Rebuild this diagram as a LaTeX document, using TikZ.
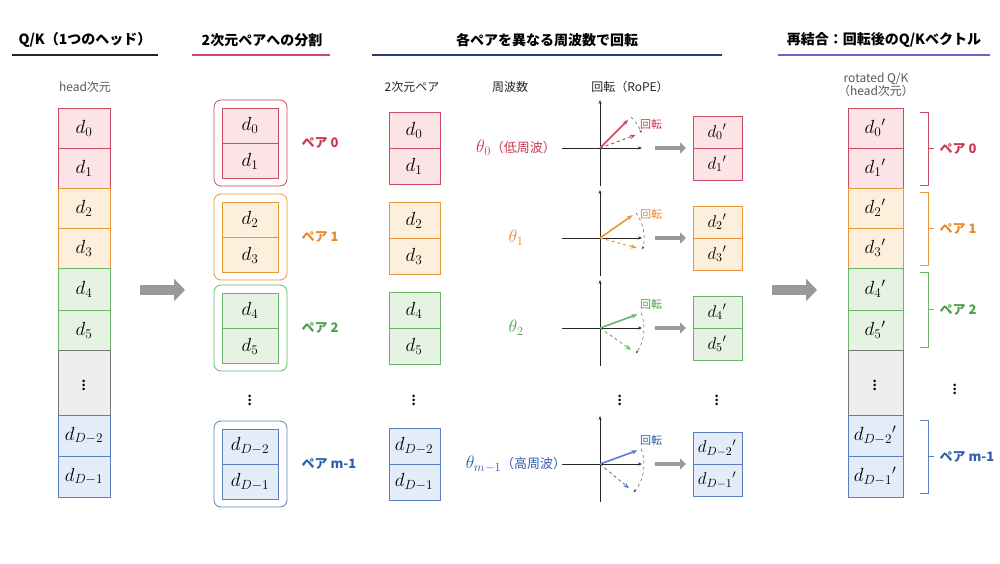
\RequirePackage{fix-cm}
\documentclass[tikz,border=0pt]{standalone}
\usepackage{fontspec}
\setmainfont{Noto Sans CJK JP}
\usetikzlibrary{arrows.meta,calc}
\definecolor{redS}{HTML}{C94C63}\definecolor{redF}{HTML}{FBE3E6}\definecolor{redT}{HTML}{C8384F}
\definecolor{oraS}{HTML}{E8963A}\definecolor{oraF}{HTML}{FDEFDC}\definecolor{oraT}{HTML}{E8892A}
\definecolor{grnS}{HTML}{6BB46A}\definecolor{grnF}{HTML}{E6F3E3}\definecolor{grnT}{HTML}{4CA04A}
\definecolor{bluS}{HTML}{5B80C0}\definecolor{bluF}{HTML}{E3ECF8}\definecolor{bluT}{HTML}{2F5FAA}
\definecolor{gryS}{HTML}{777777}\definecolor{gryF}{HTML}{EEEEEE}
\definecolor{navy}{HTML}{2B3A7A}\definecolor{purp}{HTML}{7A5CC8}
\newcommand\fsz[1]{\fontsize{#1}{#1}\selectfont}
\tikzset{
  head/.style={font=\fsz{14}\bfseries},
  sub/.style={font=\fsz{12},text=black!65},
  lbl/.style={font=\fsz{13}\bfseries},
  mth/.style={font=\fsz{19}},
  bigarrow/.style={-{Triangle[length=11pt,width=22pt]},line width=10pt,black!40},
  smallarrow/.style={-{Triangle[length=6pt,width=11pt]},line width=4pt,black!40},
  axis/.style={-{Stealth[length=4pt]},black!85,line width=0.7pt},
}
\begin{document}
\begin{tikzpicture}[x=1pt,y=-1pt]
\useasboundingbox[fill=white] (0,0) rectangle (1000,563);
% headings
\node[head] (h1) at (85,40) {Q/K（1つのヘッド）};
\node[head] (h2) at (262,40) {2次元ペアへの分割};
\node[head] (h3) at (547,40) {各ペアを異なる周波数で回転};
\node[head] (h4) at (884,40) {再結合：回転後のQ/Kベクトル};
\draw[line width=1.2pt,black!85] (12,55) -- (158,55);
\draw[line width=1.2pt,redS] (192,55) -- (330,55);
\draw[line width=1.2pt,navy] (372,55) -- (722,55);
\draw[line width=1.2pt,purp] (778,55) -- (990,55);
% left and right columns
\node[sub] (hd) at (85,87) {head次元};
\node[sub,align=center] (rq) at (876,85) {rotated Q/K\\（head次元）};
\foreach \i/\ya/\yb/\c/\t in {0/108/148/red/d_0,1/148/188/red/d_1,2/188/228/ora/d_2,3/228/268/ora/d_3,4/268/310/grn/d_4,5/310/350/grn/d_5,6/350/415/gry/\vdots,7/415/456/blu/d_{D-2},8/456/497/blu/d_{D-1}}{
  \draw[draw=\c S,fill=\c F] (58,\ya) rectangle (110,\yb);
  \node[mth] (l\i) at (84,{(\ya+\yb)/2}) {$\t$};
  \draw[draw=\c S,fill=\c F] (848,\ya) rectangle (903,\yb);
}
\foreach \i/\y/\t in {0/128/d_0{}',1/168/d_1{}',2/208/d_2{}',3/248/d_3{}',4/289/d_4{}',5/330/d_5{}',6/382/\vdots,7/435/d_{D-2}{}',8/476/d_{D-1}{}'}
  \node[mth] (r\i) at (875,\y) {$\t$};
\draw[bigarrow] (140,290) -- (185,290);
\draw[bigarrow] (772,290) -- (817,290);
% pairs
\foreach \j/\ya/\c/\t/\da/\db in {0/100/red/ペア 0/d_0/d_1,1/194/ora/ペア 1/d_2/d_3,2/285/grn/ペア 2/d_4/d_5,3/421/blu/ペア m-1/d_{D-2}/d_{D-1}}{
  \draw[draw=\c S,rounded corners=7pt,line width=0.8pt] (214,\ya) rectangle (287,\ya+86);
  \draw[draw=\c S,fill=\c F] (222,\ya+8) rectangle (278,\ya+78);
  \draw[draw=\c S] (222,\ya+43) -- (278,\ya+43);
  \node[mth] (pa\j) at (250,\ya+25) {$\da$};
  \node[mth] (pb\j) at (250,\ya+61) {$\db$};
  \node[lbl,text=\c T,anchor=west] (pl\j) at (298,\ya+43) {\t};
}
\node[mth] (pdots) at (250,397) {$\vdots$};
% column 3
\node[sub,text=black!85] (c1) at (412,87) {2次元ペア};
\node[sub,text=black!85] (c2) at (510,87) {周波数};
\node[sub,text=black!85] (c3) at (630,87) {回転（RoPE）};
\foreach \j/\yc/\c/\da/\db/\th/\sa/\dab in {0/148/red/d_0/d_1/{$\theta_0$\fsz{13}（低周波）}/45/20,1/238/ora/d_2/d_3/{$\theta_1$}/35/-15,2/328/grn/d_4/d_5/{$\theta_2$}/20/-35,3/464/blu/d_{D-2}/d_{D-1}/{$\theta_{m-1}$\fsz{13}（高周波）}/20/-40}{
  \draw[draw=\c S,fill=\c F] (389,\yc-36) rectangle (440,\yc+36);
  \draw[draw=\c S] (389,\yc) -- (440,\yc);
  \node[mth] (qa\j) at (414,\yc-18) {$\da$};
  \node[mth] (qb\j) at (414,\yc+18) {$\db$};
  \node[font=\fsz{18},text=\c T] (fr\j) at (516,\yc) {\th};
  \coordinate (o\j) at (600,\yc);
  \draw[axis] (562,\yc) -- (642,\yc);
  \draw[axis] (600,\yc+38) -- (600,\yc-48);
  \coordinate (s\j) at ($(o\j)+(\sa:40pt)$);
  \coordinate (t\j) at ($(o\j)+(\dab:38pt)$);
  \draw[-{Stealth[length=6pt]},line width=1.6pt,\c S] (o\j) -- (s\j);
  \draw[-{Stealth[length=6pt]},dashed,line width=1pt,\c S] (o\j) -- (t\j);
  \draw[-{Stealth[length=3pt]},dashed,black!80] ($(o\j)+(\sa:44pt)$) arc[start angle=\sa,end angle=\dab,radius=44pt];
  \node[font=\fsz{11},text=\c T] (rt\j) at (651,\yc-24) {回転};
  \draw[smallarrow] (655,\yc) -- (686,\yc);
  \draw[draw=\c S,fill=\c F] (693,\yc-32) rectangle (742,\yc+32);
  \draw[draw=\c S] (693,\yc) -- (742,\yc);
}
\foreach \j/\yc/\da/\db in {0/148/d_0{}'/d_1{}',1/238/d_2{}'/d_3{}',2/328/d_4{}'/d_5{}',3/464/d_{D-2}{}'/d_{D-1}{}'}{
  \node[font=\fsz{17}] (oa\j) at (717,\yc-16) {$\da$};
  \node[font=\fsz{17}] (ob\j) at (717,\yc+16) {$\db$};
}
\node[mth] (qdots) at (414,397) {$\vdots$};
\node[mth] (rdots) at (620,397) {$\vdots$};
\node[mth] (odots) at (717,397) {$\vdots$};
\node[mth] (bdots) at (955,386) {$\vdots$};
% braces on the right
\foreach \j/\ya/\yb/\c/\t in {0/112/185/red/ペア 0,1/192/265/ora/ペア 1,2/272/347/grn/ペア 2,3/420/493/blu/ペア m-1}{
  \draw[\c S,line width=1pt] (920,\ya) -- (928,\ya) -- (928,\yb) -- (920,\yb);
  \draw[\c S,line width=1pt] (928,{(\ya+\yb)/2}) -- (934,{(\ya+\yb)/2});
  \node[lbl,text=\c T,anchor=west] (bl\j) at (936,{(\ya+\yb)/2}) {\t};
}
\end{tikzpicture}
\end{document}
